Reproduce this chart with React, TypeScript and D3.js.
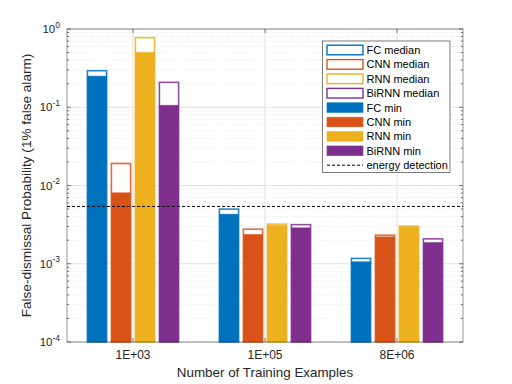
import { useEffect, useRef } from "react";
import * as d3 from "d3";

const categories = ["1E+03", "1E+05", "8E+06"];
const series = ["FC", "CNN", "RNN", "BiRNN"];
const colors = ["#0072BD", "#D95319", "#EDB120", "#7E2F8E"];

// rows = categories, columns = series
const medianValues = [
  [0.293, 0.0191, 0.774, 0.208],
  [0.00499, 0.00277, 0.00321, 0.00316],
  [0.00117, 0.00232, 0.00303, 0.00208],
];
const minValues = [
  [0.25, 0.00807, 0.503, 0.106],
  [0.0043, 0.00237, 0.00309, 0.00288],
  [0.00106, 0.00221, 0.00296, 0.00187],
];
const energyDetection = 0.0054;
const yTickExponents = [0, -1, -2, -3, -4];

const FONT = "'Liberation Sans', Arial, Helvetica, sans-serif";

const App = () => {
  const svgRef = useRef(null);
  const width = 512;
  const height = 384;

  useEffect(() => {
    const margin = { top: 29, right: 49, bottom: 42, left: 67 };
    const innerWidth = width - margin.left - margin.right;
    const innerHeight = height - margin.top - margin.bottom;

    const svg = d3.select(svgRef.current);
    svg.selectAll("*").remove();

    const g = svg.append("g")
      .attr("transform", `translate(${margin.left},${margin.top})`);

    // scales
    const x = d3.scaleLinear().domain([0.5, categories.length + 0.5]).range([0, innerWidth]);
    const unit = x(1) - x(0);
    const groupWidth = Math.min(0.8, series.length / (series.length + 1.5));
    const x1 = d3.scaleBand()
      .domain(series)
      .range([-groupWidth / 2 * unit, groupWidth / 2 * unit])
      .paddingInner(0.2)
      .paddingOuter(0.1);

    const y = d3.scaleLog().domain([1e-4, 1]).range([innerHeight, 0]);

    // grid
    const minorTicks = [];
    for (let e = -4; e < 0; e++) {
      for (let m = 2; m <= 9; m++) minorTicks.push(m * Math.pow(10, e));
    }
    g.selectAll(".minor-grid")
      .data(minorTicks)
      .enter()
      .append("line")
      .attr("x1", 0)
      .attr("x2", innerWidth)
      .attr("y1", d => y(d))
      .attr("y2", d => y(d))
      .attr("stroke", "#d8d8d8")
      .attr("stroke-width", 0.6)
      .attr("stroke-dasharray", "1,1.5");

    g.selectAll(".major-grid")
      .data(yTickExponents.map(e => Math.pow(10, e)))
      .enter()
      .append("line")
      .attr("x1", 0)
      .attr("x2", innerWidth)
      .attr("y1", d => y(d))
      .attr("y2", d => y(d))
      .attr("stroke", "#e3e3e3")
      .attr("stroke-width", 1);

    g.selectAll(".x-grid")
      .data(categories.map((_, i) => i + 1))
      .enter()
      .append("line")
      .attr("x1", d => x(d))
      .attr("x2", d => x(d))
      .attr("y1", 0)
      .attr("y2", innerHeight)
      .attr("stroke", "#e3e3e3")
      .attr("stroke-width", 1);

    // bars: median as outline, min filled on top
    const bw = x1.bandwidth();
    categories.forEach((cat, ci) => {
      const cx = x(ci + 1);
      series.forEach((s, si) => {
        const bx = cx + x1(s);
        const med = medianValues[ci][si];
        const mn = minValues[ci][si];
        g.append("rect")
          .attr("x", bx)
          .attr("y", y(med))
          .attr("width", bw)
          .attr("height", innerHeight - y(med))
          .attr("fill", "#ffffff")
          .attr("stroke", colors[si])
          .attr("stroke-width", 1.6)
          .attr("stroke-opacity", 0.85);
        g.append("rect")
          .attr("x", bx)
          .attr("y", y(mn))
          .attr("width", bw)
          .attr("height", innerHeight - y(mn))
          .attr("fill", colors[si])
          .attr("stroke", colors[si])
          .attr("stroke-width", 0.8)
          .attr("stroke-opacity", 0.6);
      });
    });

    // energy detection line
    g.append("line")
      .attr("x1", 0)
      .attr("x2", innerWidth)
      .attr("y1", y(energyDetection))
      .attr("y2", y(energyDetection))
      .attr("stroke", "#000")
      .attr("stroke-width", 1)
      .attr("stroke-dasharray", "3,2");

    // axes box
    const axisColor = "#262626";
    g.append("rect")
      .attr("x", 0)
      .attr("y", 0)
      .attr("width", innerWidth)
      .attr("height", innerHeight)
      .attr("fill", "none")
      .attr("stroke", axisColor)
      .attr("stroke-width", 0.6)
      .attr("stroke-opacity", 0.8);

    // y ticks (inward, both sides)
    const majorLen = 4;
    const minorLen = 2.2;
    yTickExponents.forEach(e => {
      const yy = y(Math.pow(10, e));
      [[0, majorLen], [innerWidth, innerWidth - majorLen]].forEach(([a, b]) => {
        g.append("line").attr("x1", a).attr("x2", b).attr("y1", yy).attr("y2", yy)
          .attr("stroke", axisColor).attr("stroke-width", 0.6);
      });
    });
    minorTicks.forEach(v => {
      const yy = y(v);
      [[0, minorLen], [innerWidth, innerWidth - minorLen]].forEach(([a, b]) => {
        g.append("line").attr("x1", a).attr("x2", b).attr("y1", yy).attr("y2", yy)
          .attr("stroke", axisColor).attr("stroke-width", 0.6);
      });
    });
    // x ticks
    categories.forEach((_, i) => {
      const xx = x(i + 1);
      [[innerHeight, innerHeight - majorLen], [0, majorLen]].forEach(([a, b]) => {
        g.append("line").attr("x1", xx).attr("x2", xx).attr("y1", a).attr("y2", b)
          .attr("stroke", axisColor).attr("stroke-width", 0.6);
      });
    });

    // y tick labels
    yTickExponents.forEach(e => {
      const t = g.append("text")
        .attr("x", -7)
        .attr("y", y(Math.pow(10, e)) + 4)
        .attr("text-anchor", "end")
        .attr("font-family", FONT)
        .attr("font-size", 11.5)
        .attr("fill", axisColor);
      t.append("tspan").text("10");
      t.append("tspan").attr("dy", -5.5).attr("font-size", 8.5).text(String(e));
    });

    // x tick labels
    categories.forEach((c, i) => {
      g.append("text")
        .attr("x", x(i + 1))
        .attr("y", innerHeight + 17)
        .attr("text-anchor", "middle")
        .attr("font-family", FONT)
        .attr("font-size", 12)
        .attr("fill", axisColor)
        .text(c);
    });

    // axis labels
    g.append("text")
      .attr("x", innerWidth / 2)
      .attr("y", innerHeight + 35)
      .attr("text-anchor", "middle")
      .attr("font-family", FONT)
      .attr("font-size", 13.4)
      .attr("fill", axisColor)
      .text("Number of Training Examples");

    g.append("text")
      .attr("transform", `translate(${-36.5},${innerHeight / 2}) rotate(-90)`)
      .attr("text-anchor", "middle")
      .attr("font-family", FONT)
      .attr("font-size", 13.6)
      .attr("fill", axisColor)
      .text("False-dismissal Probability (1% false alarm)");

    // legend
    const lx = 322.5 - margin.left;
    const ly = 41 - margin.top;
    const rowH = 14.4;
    const entries = [
      ...series.map((s, i) => ({ label: `${s} median`, type: "median", color: colors[i] })),
      ...series.map((s, i) => ({ label: `${s} min`, type: "min", color: colors[i] })),
      { label: "energy detection", type: "line", color: "#000" },
    ];
    const legend = g.append("g").attr("transform", `translate(${lx},${ly})`);
    legend.append("rect")
      .attr("x", 0)
      .attr("y", 0)
      .attr("width", 127.5)
      .attr("height", entries.length * rowH + 2)
      .attr("fill", "#fff")
      .attr("stroke", axisColor)
      .attr("stroke-width", 0.6);

    entries.forEach((d, i) => {
      const cy = 9 + i * rowH;
      if (d.type === "line") {
        legend.append("line")
          .attr("x1", 4.5).attr("x2", 40.5).attr("y1", cy).attr("y2", cy)
          .attr("stroke", "#000").attr("stroke-width", 1).attr("stroke-dasharray", "3,2");
      } else {
        legend.append("rect")
          .attr("x", 4.5)
          .attr("y", cy - 4.8)
          .attr("width", 36)
          .attr("height", 9.6)
          .attr("fill", d.type === "median" ? "#fff" : d.color)
          .attr("stroke", d.color)
          .attr("stroke-width", d.type === "median" ? 1.4 : 0.6);
      }
      legend.append("text")
        .attr("x", 44)
        .attr("y", cy + 4)
        .attr("font-family", FONT)
        .attr("font-size", 11)
        .attr("fill", "#000")
        .text(d.label);
    });
  }, [width, height]);

  return (
    <svg
      ref={svgRef}
      width={width}
      height={height}
      style={{ position: "absolute", left: 0, top: 0, background: "#fff" }}
    ></svg>
  );
};

export default App;
